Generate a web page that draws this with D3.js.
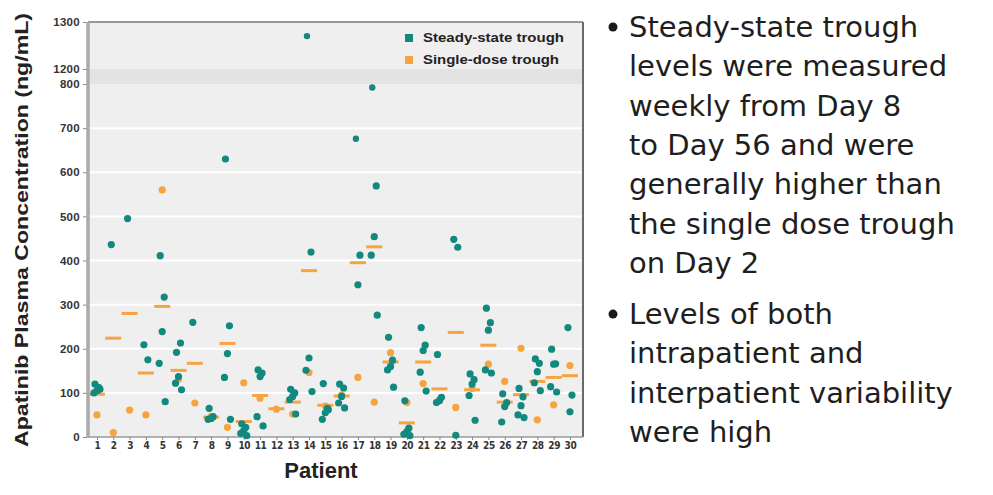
<!DOCTYPE html>
<html>
<head>
<meta charset="utf-8">
<script src="https://cdn.jsdelivr.net/npm/d3@7"></script>
<style>
  body { margin: 0; background: #fff; }
  text { font-family: "Liberation Sans", Arial, sans-serif; }
</style>
</head>
<body>
<svg id="svg1" width="993" height="495"></svg>
<script>
// patients on the x axis
var patients = [1,2,3,4,5,6,7,8,9,10,11,12,13,14,15,16,17,18,19,20,21,22,23,24,25,26,27,28,29,30];

// steady-state trough values (ng/mL), weekly samples per patient
var steadyState = [
  [120,112,105,100,108], [436], [495], [209,175], [411,317,239,167,80],
  [192,213,137,122,107], [260], [65,46,42,40], [630,252,189,135,40], [30,22,15,8,3],
  [152,145,137,46,25], [], [108,100,92,85,52], [1270,419,179,151,103], [121,65,55,40,62],
  [120,111,92,77,66], [676,412,345], [792,569,454,412,276], [226,174,160,152,113], [82,20,12,6,3],
  [248,208,196,147,104], [187,90,82,78], [448,430,4], [143,130,120,94,38], [292,259,242,152,145],
  [98,78,69,34], [110,91,71,50,44], [177,167,148,123,105], [199,166,165,114,102], [248,95,57]
];

// single-dose trough (Day 2) dots
var singleDose = [50,10,61,50,560,131,77,47,22,123,88,63,52,146,70,95,135,79,191,78,121,85,67,110,165,126,201,39,73,162];

// orange dash level per patient
var dashLevel = [97,224,280,145,296,151,167,45,212,35,94,64,79,377,72,93,395,431,170,32,170,109,237,107,208,79,96,126,135,139];

var yTicks = [0,100,200,300,400,500,600,700,800,1200,1300];
var gridTicks = [100,200,300,400,500,600,700];

var legendItems = ["Steady-state trough", "Single-dose trough"];

var bullets = [
  ["Steady-state trough", "levels were measured", "weekly from Day 8", "to Day 56 and were",
   "generally higher than", "the single dose trough", "on Day 2"],
  ["Levels of both", "intrapatient and", "interpatient variability", "were high"]
];

var teal = "#12897f", orange = "#f6a43f";

var svg = d3.select("#svg1");
var plotLeft = 88, plotRight = 583, plotTop = 22, plotBottom = 437;

// broken axis: 0-800 lower section, 1200-1300 upper section
var x = d3.scaleLinear().domain([0.45, 30.8]).range([plotLeft, plotRight]);
var y = d3.scaleLinear().domain([0, 800, 1200, 1300]).range([plotBottom, 84, 69, plotTop]);

// plot background
svg.append("rect")
  .attr("x", plotLeft).attr("y", plotTop)
  .attr("width", plotRight - plotLeft).attr("height", plotBottom - plotTop)
  .attr("fill", "#efefef");
svg.append("rect")
  .attr("x", plotLeft).attr("y", y(1200))
  .attr("width", plotRight - plotLeft).attr("height", y(800) - y(1200))
  .attr("fill", "#e3e3e3");

svg.append("g").selectAll("line")
  .data(gridTicks)
  .enter().append("line")
  .attr("x1", plotLeft).attr("x2", plotRight)
  .attr("y1", function(d) { return y(d); })
  .attr("y2", function(d) { return y(d); })
  .attr("stroke", "#fff")
  .attr("stroke-width", 2);

// borders
svg.append("line").attr("x1", plotLeft).attr("x2", plotRight).attr("y1", plotTop).attr("y2", plotTop)
  .attr("stroke", "#777").attr("stroke-width", 1.5);
svg.append("line").attr("x1", plotRight).attr("x2", plotRight).attr("y1", plotTop).attr("y2", plotBottom)
  .attr("stroke", "#6a6a6a").attr("stroke-width", 2);
svg.append("line").attr("x1", plotLeft).attr("x2", plotRight).attr("y1", plotBottom).attr("y2", plotBottom)
  .attr("stroke", "#9a9a9a").attr("stroke-width", 1.5);

// y axis
var yAxis = svg.append("g")
  .attr("transform", "translate(" + plotLeft + ",0)")
  .call(d3.axisLeft(y).tickValues(yTicks).tickFormat(d3.format("d")).tickSize(5).tickPadding(3));
yAxis.select(".domain").remove();
yAxis.selectAll(".tick line").attr("stroke", "#888");
yAxis.selectAll(".tick text")
  .attr("fill", "#333")
  .style("font-size", "11.5px")
  .style("font-weight", "bold")
  .style("letter-spacing", "0.3px");
svg.append("line").attr("x1", plotLeft).attr("x2", plotLeft).attr("y1", plotTop).attr("y2", plotBottom + 1)
  .attr("stroke", "#aaa").attr("stroke-width", 3.5);

// x axis
var xAxis = svg.append("g")
  .attr("transform", "translate(0," + plotBottom + ")")
  .call(d3.axisBottom(x).tickValues(patients).tickSize(3).tickPadding(2));
xAxis.select(".domain").remove();
xAxis.selectAll(".tick line").attr("stroke", "#888");
xAxis.selectAll(".tick text")
  .attr("fill", "#333")
  .style("font-family", "'Liberation Sans Narrow', 'DejaVu Sans Condensed', sans-serif")
  .style("font-size", "10px")
  .style("font-weight", "bold")
  .style("letter-spacing", "-0.4px");

// axis titles
svg.append("text")
  .attr("transform", "translate(28,230) rotate(-90)")
  .attr("text-anchor", "middle")
  .attr("textLength", 434)
  .attr("lengthAdjust", "spacingAndGlyphs")
  .attr("fill", "#222")
  .style("font-size", "19px")
  .style("font-weight", "bold")
  .text("Apatinib Plasma Concentration (ng/mL)");

svg.append("text")
  .attr("x", 321).attr("y", 478)
  .attr("text-anchor", "middle")
  .attr("fill", "#222")
  .style("font-size", "22px")
  .style("font-weight", "bold")
  .text("Patient");

// steady-state dots, small horizontal jitter inside each patient
var jitter = [-2, 2, 0, -3, 3];
var pts = [];
steadyState.forEach(function(vals, i) {
  vals.forEach(function(v, j) { pts.push({p: patients[i], v: v, j: jitter[j % jitter.length]}); });
});

svg.append("g").selectAll("line")
  .data(dashLevel)
  .enter().append("line")
  .attr("x1", function(d, i) { return x(patients[i]) - 8; })
  .attr("x2", function(d, i) { return x(patients[i]) + 8; })
  .attr("y1", function(d) { return y(d); })
  .attr("y2", function(d) { return y(d); })
  .attr("stroke", orange)
  .attr("stroke-width", 3);

svg.append("g").selectAll("circle")
  .data(singleDose)
  .enter().append("circle")
  .attr("cx", function(d, i) { return x(patients[i]); })
  .attr("cy", function(d) { return y(d); })
  .attr("r", 3.6)
  .attr("fill", orange);

svg.append("g").selectAll("circle")
  .data(pts)
  .enter().append("circle")
  .attr("cx", function(d) { return x(d.p) + d.j; })
  .attr("cy", function(d) { return y(d.v); })
  .attr("r", function(d) { return d.v > 650 ? 3.2 : 3.6; })
  .attr("fill", teal);

// legend
var legend = svg.append("g").attr("transform", "translate(405,34)");
legendItems.forEach(function(name, i) {
  legend.append("rect")
    .attr("x", 0).attr("y", i * 22)
    .attr("width", 8).attr("height", 8)
    .attr("fill", i === 0 ? teal : orange);
  legend.append("text")
    .attr("x", 18).attr("y", i * 22 + 8)
    .attr("textLength", i === 0 ? 141 : 136)
    .attr("lengthAdjust", "spacingAndGlyphs")
    .attr("fill", "#222")
    .style("font-size", "12px")
    .style("font-weight", "bold")
    .text(name);
});

// bullet text on the right
var note = svg.append("g");
var lineY = 37, step = 39.3;
bullets.forEach(function(lines, b) {
  note.append("circle")
    .attr("cx", 613).attr("cy", lineY - 10)
    .attr("r", 4.5)
    .attr("fill", "#1a1a1a");
  lines.forEach(function(t) {
    note.append("text")
      .attr("x", 629).attr("y", lineY)
      .attr("fill", "#1e1e1e")
      .style("font-family", "'DejaVu Sans', sans-serif")
      .style("font-size", "29px")
      .text(t);
    lineY += step;
  });
  lineY += 12;
});
</script>
</body>
</html>
